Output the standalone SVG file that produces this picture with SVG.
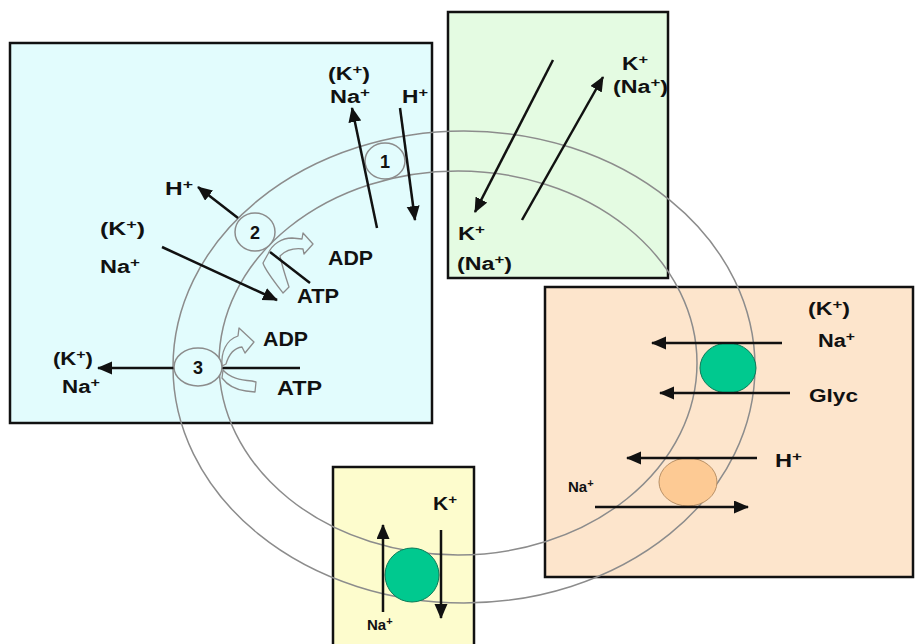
<svg xmlns="http://www.w3.org/2000/svg" width="915" height="644" viewBox="0 0 915 644">
<style>
.box{stroke:#111;stroke-width:2.5}
.memb{fill:none;stroke:#8c8c8c;stroke-width:1.5}
.pump{stroke:#8c8c8c;stroke-width:1.5}
.broad{fill:#e2fcfd;stroke:#8c8c8c;stroke-width:1.3;stroke-linejoin:round}
.arr{stroke:#111;stroke-width:2.5;fill:none}
.ah{marker-end:url(#head)}
text{font-family:"Liberation Sans",Arial,sans-serif;font-weight:bold;fill:#111;font-size:18px}
.big{font-size:20px}
.sm{font-size:15px}
.sup{font-size:13px}
.sups{font-size:11px}
</style>
<defs>
<marker id="head" markerUnits="userSpaceOnUse" markerWidth="16" markerHeight="14" refX="14" refY="6.5" orient="auto">
<path d="M0,0 L15,6.5 L0,13 Z" fill="#111"/>
</marker>
</defs>
<rect width="915" height="644" fill="#fff"/>
<g id="cytoplasm-box"><rect class="box" x="10" y="43" width="422" height="380" fill="#e2fcfd"/></g>
<g id="green-box"><rect class="box" x="448" y="12" width="220" height="266" fill="#e4fbe2"/></g>
<g id="orange-box"><rect class="box" x="545" y="287" width="368" height="290" fill="#fde5cc"/></g>
<g id="yellow-box"><rect class="box" x="333" y="467" width="141" height="185" fill="#fdfccd"/></g>
<g id="membrane">
<ellipse class="memb" cx="464" cy="367" rx="291" ry="236"/>
<ellipse class="memb" cx="458" cy="363" rx="239" ry="192"/>
</g>
<g id="pump1"><ellipse class="pump" cx="385" cy="161" rx="20" ry="18" fill="#e2fcfd"/><text x="385" y="168" text-anchor="middle">1</text></g>
<g id="pump2"><ellipse class="pump" cx="255" cy="232" rx="20" ry="19" fill="#e2fcfd"/><text x="255" y="239" text-anchor="middle">2</text></g>
<g id="atp2">
<path class="broad" d="M268,254 C272,244 282,238 292,238 L302,239 L303,233 L313,244 L304,254 L303,249 C295,248 286,250 280,256 C282,266 286,278 289,287 L283,293 C276,284 265,270 263,263 Z"/>
</g>
<g id="atp3">
<path class="broad" d="M222,366 C221,352 226,340 238,336 L239,328 L254,342 L245,353 L242,347 C234,348 229,354 226,364 Z"/>
<path class="broad" d="M223,370 C230,378 240,380 252,381 L256,382 L255,392 L246,391 C238,390 228,386 222,378 Z"/>
</g>
<g id="green-transporter"><ellipse cx="728" cy="368" rx="28" ry="25" fill="#00c98f" stroke="#0a7a58" stroke-width="1"/></g>
<g id="orange-transporter"><ellipse cx="688" cy="482" rx="29" ry="24" fill="#fdca94" stroke="#b89066" stroke-width="1"/></g>
<g id="yellow-transporter"><ellipse cx="412" cy="575" rx="27" ry="27" fill="#00c98f" stroke="#0a7a58" stroke-width="1"/></g>
<g id="connectors">
<line class="arr ah" x1="377" y1="228" x2="352" y2="108"/>
<line class="arr ah" x1="400" y1="108" x2="415" y2="220"/>
<line class="arr ah" x1="238" y1="218" x2="198" y2="187"/>
<line class="arr ah" x1="162" y1="247" x2="277" y2="300"/>
<line class="arr" x1="270" y1="252" x2="310" y2="283"/>
<line class="arr ah" x1="300" y1="368" x2="98" y2="368"/>
<line class="arr ah" x1="553" y1="60" x2="475" y2="212"/>
<line class="arr ah" x1="522" y1="220" x2="603" y2="77"/>
<line class="arr ah" x1="782" y1="343" x2="652" y2="343"/>
<line class="arr ah" x1="790" y1="393" x2="660" y2="393"/>
<line class="arr ah" x1="757" y1="458" x2="627" y2="458"/>
<line class="arr ah" x1="595" y1="507" x2="748" y2="507"/>
<line class="arr ah" x1="383" y1="612" x2="383" y2="525"/>
<line class="arr ah" x1="441" y1="530" x2="441" y2="618"/>
</g>
<g id="pump3"><ellipse class="pump" cx="198" cy="367" rx="24" ry="19" fill="#e2fcfd"/><text x="198" y="374" text-anchor="middle">3</text></g>
<g id="labels">
<text x="328" y="80" textLength="42" lengthAdjust="spacingAndGlyphs">(K<tspan class="sup" dy="-6">+</tspan><tspan dy="6">)</tspan></text>
<text x="330" y="103" textLength="40" lengthAdjust="spacingAndGlyphs">Na<tspan class="sup" dy="-6">+</tspan></text>
<text x="402" y="103" textLength="26" lengthAdjust="spacingAndGlyphs">H<tspan class="sup" dy="-6">+</tspan></text>
<text x="165" y="195" textLength="28" lengthAdjust="spacingAndGlyphs">H<tspan class="sup" dy="-6">+</tspan></text>
<text x="100" y="235" textLength="45" lengthAdjust="spacingAndGlyphs">(K<tspan class="sup" dy="-6">+</tspan><tspan dy="6">)</tspan></text>
<text x="100" y="273" textLength="40" lengthAdjust="spacingAndGlyphs">Na<tspan class="sup" dy="-6">+</tspan></text>
<text class="big" x="328" y="265" textLength="45" lengthAdjust="spacingAndGlyphs">ADP</text>
<text class="big" x="297" y="303" textLength="42" lengthAdjust="spacingAndGlyphs">ATP</text>
<text class="big" x="263" y="346" textLength="45" lengthAdjust="spacingAndGlyphs">ADP</text>
<text class="big" x="277" y="395" textLength="45" lengthAdjust="spacingAndGlyphs">ATP</text>
<text x="53" y="365" textLength="40" lengthAdjust="spacingAndGlyphs">(K<tspan class="sup" dy="-6">+</tspan><tspan dy="6">)</tspan></text>
<text x="62" y="393" textLength="38" lengthAdjust="spacingAndGlyphs">Na<tspan class="sup" dy="-6">+</tspan></text>
<text x="622" y="70" textLength="26" lengthAdjust="spacingAndGlyphs">K<tspan class="sup" dy="-6">+</tspan></text>
<text x="613" y="93" textLength="55" lengthAdjust="spacingAndGlyphs">(Na<tspan class="sup" dy="-6">+</tspan><tspan dy="6">)</tspan></text>
<text x="458" y="240" textLength="27" lengthAdjust="spacingAndGlyphs">K<tspan class="sup" dy="-6">+</tspan></text>
<text x="457" y="270" textLength="55" lengthAdjust="spacingAndGlyphs">(Na<tspan class="sup" dy="-6">+</tspan><tspan dy="6">)</tspan></text>
<text x="808" y="315" textLength="42" lengthAdjust="spacingAndGlyphs">(K<tspan class="sup" dy="-6">+</tspan><tspan dy="6">)</tspan></text>
<text x="818" y="347" textLength="37" lengthAdjust="spacingAndGlyphs">Na<tspan class="sup" dy="-6">+</tspan></text>
<text x="809" y="402" textLength="49" lengthAdjust="spacingAndGlyphs">Glyc</text>
<text x="775" y="467" textLength="27" lengthAdjust="spacingAndGlyphs">H<tspan class="sup" dy="-6">+</tspan></text>
<text class="sm" x="568" y="492">Na<tspan class="sups" dy="-5">+</tspan></text>
<text x="433" y="510" textLength="24" lengthAdjust="spacingAndGlyphs">K<tspan class="sup" dy="-6">+</tspan></text>
<text class="sm" x="367" y="630">Na<tspan class="sups" dy="-5">+</tspan></text>
</g>
</svg>
